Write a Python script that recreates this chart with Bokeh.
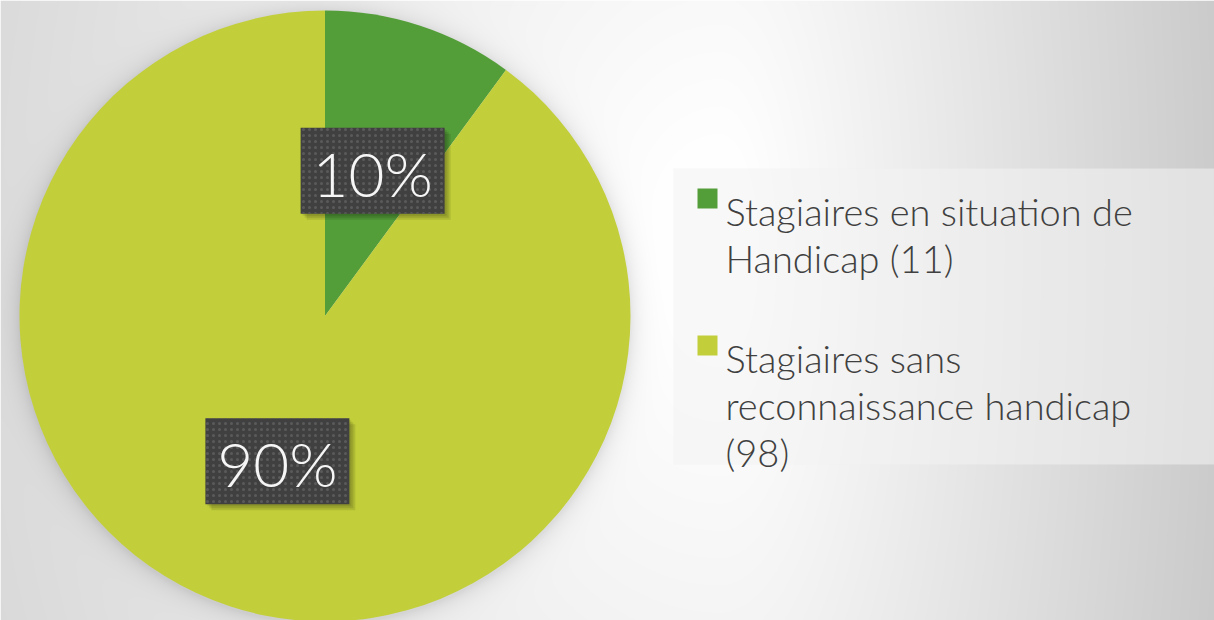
import math
import textwrap
import numpy as np
from bokeh.plotting import figure
from bokeh.models import ColumnDataSource
from bokeh.core.properties import value
from bokeh.embed import file_html
from bokeh.resources import INLINE

# ---------------- data ----------------
categories = ["Stagiaires en situation de Handicap",
              "Stagiaires sans reconnaissance handicap"]
counts = [11, 98]
colors = ["#549E39", "#C2CF3A"]

# ---------------- geometry / style ----------------
W, H = 1214, 620
CX, CY, R = 324.5, 304.5, 305.5          # pie centre & radius (data == px)
FONT = "Lato Light"

p = figure(width=W, height=H, x_range=(0, W), y_range=(0, H),
           x_axis_type=None, y_axis_type=None, min_border=0,
           toolbar_location=None, output_backend="svg")
p.grid.visible = False
p.outline_line_color = None
p.background_fill_color = "white"
p.border_fill_color = "white"

# ---------------- background gradient + pie shadow ----------------
jj, ii = np.mgrid[0:H, 0:W]
X = ii + 0.5
Y = H - (jj + 0.5)
dx = X - 720.0
sx = np.where(dx < 0, 2.07, 1.0)
dyy = (Y - 250.0) / 3.0
d = np.sqrt((dx / sx) ** 2 + dyy ** 2)
dec = np.clip((d - 30.0) * 0.11, 0, None)
pcx, pcy = CX, H - CY
dist = np.sqrt((X - pcx) ** 2 + (Y - pcy - 2) ** 2) - R
shadow = 24.0 * np.exp(-np.clip(dist, 0, None) / 9.0)
val = np.clip(255 - dec - shadow, 0, 255).astype(np.uint8)
img = np.empty((H, W), dtype=np.uint32)
view = img.view(dtype=np.uint8).reshape((H, W, 4))
view[..., 0] = val
view[..., 1] = val
view[..., 2] = val
view[..., 3] = 255
p.image_rgba(image=[img], x=0, y=0, dw=W, dh=H)

# ---------------- pie ----------------
total = sum(counts)
cum = np.concatenate([[0], np.cumsum(counts)]) / total
ang = math.pi / 2 - 2 * math.pi * cum
src = ColumnDataSource(dict(start=ang[1:], end=ang[:-1], color=colors))
p.wedge(x=CX, y=CY, radius=R, start_angle="start", end_angle="end",
        fill_color="color", line_color=None, source=src)

# ---------------- data labels ----------------
mid = (ang[1:] + ang[:-1]) / 2
lx = CX + 0.5 * R * np.cos(mid)
ly = CY + 0.5 * R * np.sin(mid)
pcts = [f"{round(c / total * 100)}%" for c in counts]
BW, BH = 144, 86
for k, a in enumerate([0.10, 0.10, 0.10]):
    o = 2 + 2 * k
    p.rect(x=lx + o, y=ly - o, width=BW, height=BH,
           fill_color="black", fill_alpha=a, line_color=None)
p.rect(x=lx, y=ly, width=BW, height=BH, fill_color="#404040",
       line_color=None, hatch_pattern="dot", hatch_color="#5a5a5a",
       hatch_scale=6, hatch_weight=2)
p.text(x=lx, y=ly - 2, text=pcts, text_align="center", text_baseline="middle",
       text_font=value(FONT), text_font_size="62px", text_color="#f6f6f6")

# ---------------- legend ----------------
p.quad(left=673, right=W, bottom=156, top=452, fill_color="#f3f3f3",
       fill_alpha=0.56, line_color=None)
LINE = 47
GAP = 53
y = 410.0
for k, (name, c) in enumerate(zip(categories, counts)):
    lines = textwrap.wrap(f"{name} ({c})", width=26)
    p.rect(x=707, y=y + 12, width=20, height=20, fill_color=colors[k],
           line_color=None)
    for ln in lines:
        p.text(x=[725], y=[y], text=[ln], text_align="left",
               text_baseline="alphabetic", text_font=value(FONT),
               text_font_size="38px", text_color="#404040")
        y -= LINE
    y -= GAP

open("out.html", "w").write(file_html(p, INLINE))
